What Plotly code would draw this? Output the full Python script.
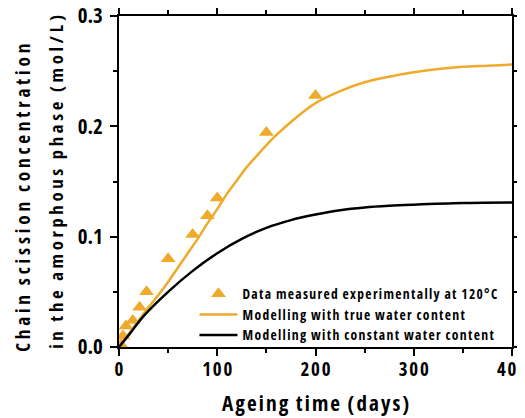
import plotly.graph_objects as go

# Experimental data (days, mol/L)
exp_days = [2, 4, 7, 14, 21, 28, 50, 75, 90, 100, 150, 200]
exp_conc = [0.002, 0.010, 0.019, 0.024, 0.036, 0.050, 0.080, 0.102, 0.119, 0.135, 0.1945, 0.228]

# Model with true water content
true_days = [0, 10, 20, 30, 40, 50, 60, 70, 80, 90, 100, 110, 120, 130, 140, 150, 160, 175,
             200, 225, 250, 275, 300, 325, 350, 375, 400]
true_conc = [0.0, 0.012, 0.024, 0.036, 0.047, 0.059, 0.072, 0.085, 0.098, 0.112, 0.125, 0.139,
             0.151, 0.163, 0.173, 0.183, 0.192, 0.204, 0.221, 0.232, 0.240, 0.245, 0.249,
             0.252, 0.254, 0.255, 0.256]

# Model with constant water content
const_days = [0, 10, 25, 50, 75, 100, 125, 150, 175, 200, 225, 250, 275, 300, 350, 400]
const_conc = [0.0, 0.011, 0.028, 0.050, 0.069, 0.085, 0.098, 0.108, 0.115, 0.120, 0.124,
              0.1265, 0.128, 0.129, 0.1305, 0.131]

x_ticks = [0, 100, 200, 300, 400]
y_ticks = [0.0, 0.1, 0.2, 0.3]
y_tick_labels = ["0.0", "0.1", "0.2", "0.3"]

legend_names = ["Data measured experimentally at 120°C",
                "Modelling with true water content",
                "Modelling with constant water content"]
x_title = "Ageing time (days)"
y_title_1 = "Chain scission concentration"
y_title_2 = "in the amorphous phase (mol/L)"

ORANGE = "#EFAA2C"
FONT = "Open Sans Condensed, Roboto Condensed, sans-serif"
TH = "\u2009"
HS = "\u200a"
SP = "\u00a0"


def spaced(s, gap=TH, wordgap=SP * 2):
    words = s.split(" ")
    return wordgap.join(gap.join(list(w)) for w in words)


fig = go.Figure()
fig.add_trace(go.Scatter(x=exp_days, y=exp_conc, mode="markers",
                         name=spaced(legend_names[0], HS, SP + HS),
                         marker=dict(symbol="triangle-up", size=13, color=ORANGE, line=dict(width=0))))
fig.add_trace(go.Scatter(x=true_days, y=true_conc, mode="lines",
                         name=spaced(legend_names[1], HS, SP + HS),
                         line=dict(color=ORANGE, width=2.5, shape="spline", smoothing=1)))
fig.add_trace(go.Scatter(x=const_days, y=const_conc, mode="lines",
                         name=spaced(legend_names[2], HS, SP + HS),
                         line=dict(color="black", width=2.5, shape="spline", smoothing=1)))

axis_common = dict(showline=True, linecolor="black", linewidth=2, mirror="ticks",
                   ticks="outside", ticklen=7, tickwidth=1.5, tickcolor="black",
                   showgrid=False, zeroline=False, ticklabeloverflow="allow")

fig.update_xaxes(range=[0, 400], tickvals=x_ticks,
                 ticktext=[HS.join(str(v)) for v in x_ticks],
                 tickfont=dict(family=FONT, size=19, color="black", weight="bold"),
                 minor=dict(dtick=50, ticks="outside", ticklen=4, tickwidth=1.5, tickcolor="black"),
                 ticklabelstandoff=-3, **axis_common)
fig.update_yaxes(range=[0, 0.3], tickvals=y_ticks, ticktext=y_tick_labels,
                 tickfont=dict(family=FONT, size=21, color="black", weight="bold"),
                 minor=dict(dtick=0.05, ticks="outside", ticklen=4, tickwidth=1.5, tickcolor="black"),
                 ticklabelstandoff=3, **axis_common)

fig.add_annotation(text=spaced(x_title, HS, SP + HS), xref="paper", yref="paper", x=0.5, y=-0.121,
                   xanchor="center", yanchor="top", showarrow=False,
                   font=dict(family=FONT, size=21, color="black", weight="bold"))
fig.add_annotation(text=spaced(y_title_1), xref="paper", yref="paper", x=-0.245, y=0.45,
                   xanchor="center", yanchor="middle", showarrow=False, textangle=-90,
                   font=dict(family=FONT, size=19, color="black", weight="bold"))
fig.add_annotation(text=spaced(y_title_2), xref="paper", yref="paper", x=-0.162, y=0.5,
                   xanchor="center", yanchor="middle", showarrow=False, textangle=-90,
                   font=dict(family=FONT, size=18.5, color="black", weight="bold"))

fig.update_layout(
    width=517, height=410,
    margin=dict(l=111, r=13, t=8, b=70.5, autoexpand=False),
    paper_bgcolor="white", plot_bgcolor="white",
    showlegend=True,
    legend=dict(x=0.192, y=0.098, xanchor="left", yanchor="middle",
                bgcolor="rgba(0,0,0,0)", borderwidth=0, tracegroupgap=0,
                font=dict(family=FONT, size=13.5, color="black", weight="bold"),
                itemwidth=38),
)

fig.write_html("out.html")
